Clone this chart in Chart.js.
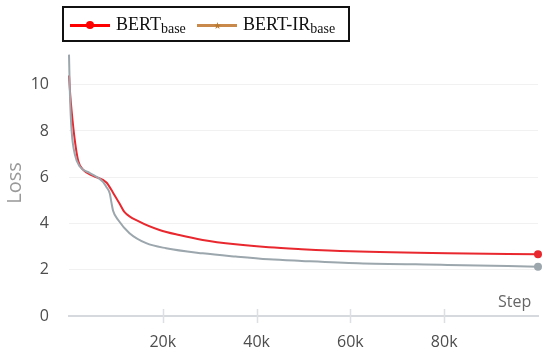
<!DOCTYPE html>
<html>
<head>
<meta charset="utf-8">
<script src="https://cdn.jsdelivr.net/npm/chart.js@4"></script>
<style>
  html, body { margin: 0; padding: 0; background: #fff; }
  #wrap { position: relative; width: 542px; height: 354px; overflow: hidden; }
  #grafico { position: absolute; left: 0; top: 0; }
  #leyenda {
    position: absolute; left: 62px; top: 6px; width: 284px; height: 32px;
    border: 2px solid #111; background: #fff;
    font-family: "Liberation Serif", "DejaVu Serif", serif; font-size: 18px; color: #111;
  }
  .item { position: absolute; top: 0; height: 32px; line-height: 32px; white-space: nowrap; }
  .item sub { font-size: 14px; vertical-align: -3px; }
  .linea { position: absolute; top: 16px; width: 40px; height: 2.5px; }
  .marca { position: absolute; left: 16px; top: -3px; width: 8px; height: 8px; border-radius: 50%; }
  .estrella { position: absolute; left: 17px; top: -2px; width: 7px; height: 7px;
    clip-path: polygon(50% 0, 62% 38%, 100% 38%, 69% 60%, 80% 100%, 50% 75%, 20% 100%, 31% 60%, 0 38%, 38% 38%); }
  .texto { position: absolute; top: 0; }
  #paso { position: absolute; left: 498px; top: 290px; font: 16px "Open Sans", sans-serif; color: #666; }
</style>
</head>
<body>
<div id="wrap">
  <canvas id="grafico" width="542" height="354"></canvas>
  <div id="leyenda">
    <div class="item" style="left:6px">
      <div class="linea" style="left:0; background:#ff0000"><div class="marca" style="background:#ff0000"></div></div>
      <span class="texto" style="left:46px">BERT<sub>base</sub></span>
    </div>
    <div class="item" style="left:133px">
      <div class="linea" style="left:0; background:#c8894a"><div class="estrella" style="background:#b8782e"></div></div>
      <span class="texto" style="left:46px">BERT-IR<sub>base</sub></span>
    </div>
  </div>
  <div id="paso">Step</div>
</div>
<script>
// Curva BERT_base (roja)
const pasosBert = [0, 250, 570, 1270, 1970, 3040, 5150, 7980, 9390, 10800, 11800, 15000, 19300, 23500, 28500, 35500, 42600, 49600, 60000, 80700, 100000];
const perdidaBert = [10.4, 9.6, 8.84, 7.55, 6.7, 6.32, 6.06, 5.77, 5.33, 4.85, 4.5, 4.08, 3.72, 3.5, 3.29, 3.1, 2.97, 2.89, 2.8, 2.71, 2.67];

// Curva BERT-IR_base (gris)
const pasosIR = [0, 200, 570, 1270, 2300, 4450, 7250, 7900, 8700, 9050, 9400, 10450, 12900, 16460, 20700, 28500, 35500, 42600, 49600, 61600, 80700, 100000];
const perdidaIR = [11.3, 9.57, 7.98, 6.97, 6.46, 6.18, 5.8, 5.6, 5.3, 4.9, 4.55, 4.16, 3.58, 3.15, 2.93, 2.71, 2.57, 2.45, 2.38, 2.28, 2.21, 2.13];

const ticksX = [20000, 40000, 60000, 80000];
const ticksY = [0, 2, 4, 6, 8, 10];

const aPuntos = (xs, ys) => xs.map((x, i) => ({ x, y: ys[i] }));
const soloUltimo = ctx => ctx.dataIndex === ctx.dataset.data.length - 1 ? 4 : 0;

// marcas cortas que cruzan el eje X
const marcasEje = {
    id: "marcasEje",
    afterDraw(chart) {
        const { ctx, chartArea, scales } = chart;
        ctx.save();
        ctx.strokeStyle = "#dcdfe3";
        ctx.lineWidth = 1.5;
        ticksX.forEach(v => {
            const px = Math.round(scales.x.getPixelForValue(v)) + 0.5;
            ctx.beginPath();
            ctx.moveTo(px, chartArea.bottom - 7);
            ctx.lineTo(px, chartArea.bottom + 7);
            ctx.stroke();
        });
        ctx.restore();
    },
};

new Chart(document.getElementById("grafico").getContext("2d"), {
    type: "line",
    data: {
        datasets: [
            { label: "BERT-IR base", data: aPuntos(pasosIR, perdidaIR), borderColor: "#9ba6ad", backgroundColor: "#9ba6ad",
              borderWidth: 2, cubicInterpolationMode: "monotone", pointRadius: soloUltimo, pointBorderWidth: 0, clip: false },
            { label: "BERT base", data: aPuntos(pasosBert, perdidaBert), borderColor: "#e8282e", backgroundColor: "#e8282e",
              borderWidth: 2, cubicInterpolationMode: "monotone", pointRadius: soloUltimo, pointBorderWidth: 0, clip: false },
        ],
    },
    options: {
        responsive: false,
        animation: false,
        layout: { padding: { left: 1, right: 1, top: 50, bottom: 2 } },
        plugins: { legend: { display: false }, tooltip: { enabled: false } },
        scales: {
            x: {
                type: "linear", min: 0, max: 100000,
                afterBuildTicks: axis => { axis.ticks = ticksX.map(value => ({ value })); },
                afterFit: axis => { axis.height = 36; },
                ticks: { padding: 17, color: "#4d4d4d", font: { family: "Open Sans", size: 16 },
                         callback: v => `${v / 1000}k`, maxRotation: 0 },
                grid: { drawOnChartArea: false, drawTicks: false },
                border: { display: true, color: "#d6d9dd", width: 2 },
            },
            y: {
                min: 0, max: 11.5,
                afterBuildTicks: axis => { axis.ticks = ticksY.map(value => ({ value })); },
                afterFit: axis => { axis.width = 68; },
                ticks: { padding: 20, color: "#4d4d4d", font: { family: "Open Sans", size: 16 } },
                grid: { color: "#f1f1f1", drawTicks: false },
                border: { display: false },
                title: { display: true, text: "Loss", color: "#999", font: { family: "Open Sans", size: 20 }, padding: { top: 2, bottom: 2 } },
            },
        },
    },
    plugins: [marcasEje],
});
</script>
</body>
</html>
